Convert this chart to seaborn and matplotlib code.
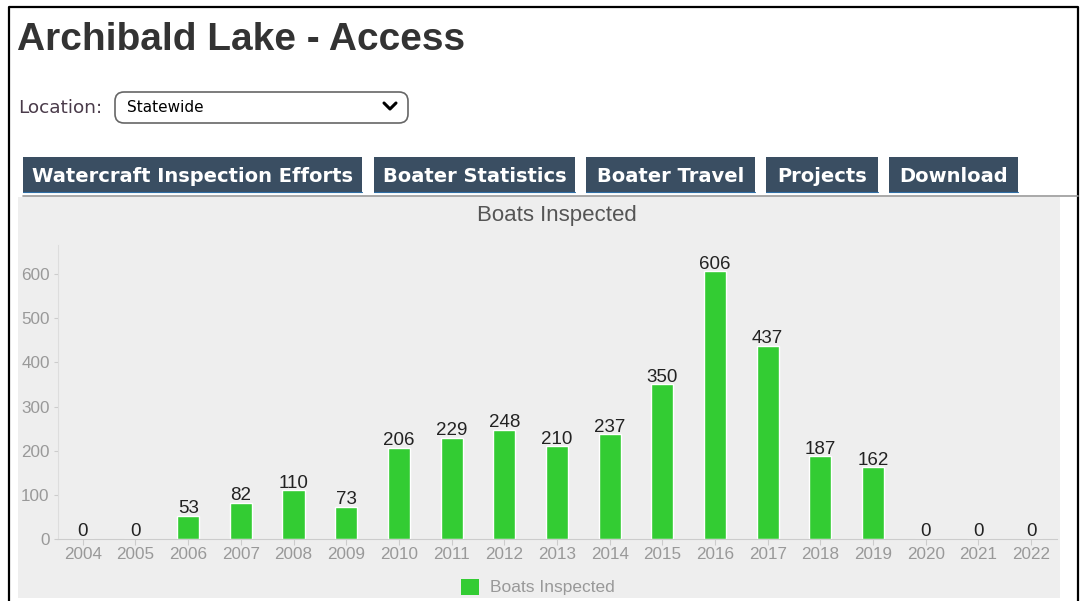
import matplotlib
matplotlib.use("Agg")
import matplotlib.pyplot as plt
import seaborn as sns
import pandas as pd
from matplotlib.patches import Rectangle, FancyBboxPatch, Patch
from matplotlib.lines import Line2D

years = [str(y) for y in range(2004, 2023)]
boats = [0, 0, 53, 82, 110, 73, 206, 229, 248, 210, 237, 350, 606, 437, 187, 162, 0, 0, 0]
tabs = ["Watercraft Inspection Efforts", "Boater Statistics", "Boater Travel", "Projects", "Download"]
tab_x = [(23, 362), (374, 575), (586, 755), (766, 878), (889, 1018)]

green = "#33cc33"
df = pd.DataFrame({"year": years, "boats": boats})

sns.set_style("white")
plt.rcParams["font.family"] = ["Liberation Sans", "DejaVu Sans"]

W, H = 1088, 601
fig = plt.figure(figsize=(W / 100, H / 100), dpi=100)
T = fig.dpi_scale_trans


def p(x, y):
    return x / 100, (H - y) / 100


# page frame
fig.add_artist(Line2D([0.09, 0.09, 10.78, 10.78], [0, (H - 7) / 100, (H - 7) / 100, 0],
                      transform=T, color="black", lw=1.6))

fig.text(*p(17, 40), "Archibald Lake - Access", transform=T, fontsize=28, fontweight="bold",
         color="#333333", va="center", ha="left")

fig.text(*p(18, 108), "Location:", transform=T, fontsize=13.3, color="#4a3b4a", va="center",
         family="DejaVu Sans")
box = FancyBboxPatch(p(115, 123), 2.93, 0.31, boxstyle="round,pad=0,rounding_size=0.09",
                     transform=T, fc="white", ec="#666666", lw=1.2)
fig.add_artist(box)
fig.text(*p(127, 108), "Statewide", transform=T, fontsize=11, color="black", va="center",
         family="DejaVu Sans")
fig.add_artist(Line2D([3.84, 3.90, 3.96], [(H - 103) / 100, (H - 109) / 100, (H - 103) / 100],
                      transform=T, color="black", lw=2.2, solid_capstyle="round"))

for name, (x0, x1) in zip(tabs, tab_x):
    fig.add_artist(Rectangle(p(x0, 193), (x1 - x0) / 100, 0.36, transform=T,
                             fc="#3a4e62", ec="none"))
    fig.add_artist(Line2D([x0 / 100, x1 / 100], [(H - 192) / 100] * 2, transform=T,
                          color="#2f6ea5", lw=0.8))
    fig.text(*p((x0 + x1) / 2, 176), name, transform=T, fontsize=14, fontweight="bold",
             color="white", ha="center", va="center", family="DejaVu Sans")
fig.add_artist(Line2D([0.23, 10.78], [(H - 196) / 100] * 2, transform=T, color="#999999", lw=1.2))

# chart panel
fig.add_artist(Rectangle(p(18, 598), 10.42, 4.01, transform=T, fc="#eeeeee", ec="none", zorder=0))
fig.text(*p(557, 215), "Boats Inspected", transform=T, fontsize=16, color="#555555",
         ha="center", va="center")

ax = fig.add_axes([58 / W, (H - 539) / H, (1057 - 58) / W, (539 - 245) / H])
ax.set_facecolor("none")
sns.barplot(data=df, x="year", y="boats", color=green, saturation=1, width=0.42, ax=ax,
            label="Boats Inspected")
ax.bar_label(ax.containers[0], padding=-1, fontsize=13.5, color="#222222")
ax.set_xlim(-0.47, 18.49)
ax.set_ylim(0, 666)
ax.set_yticks(range(0, 700, 100))
ax.set_xlabel("")
ax.set_ylabel("")
for s in ["top", "right"]:
    ax.spines[s].set_visible(False)
ax.spines["left"].set_color("#dddddd")
ax.spines["bottom"].set_color("#cccccc")
ax.tick_params(axis="y", length=3, color="#cccccc", labelcolor="#999999", labelsize=12.3, pad=3, left=True)
ax.tick_params(axis="x", length=4, color="#cccccc", labelcolor="#999999", labelsize=12.3, pad=1.5, bottom=True)
if ax.get_legend():
    ax.get_legend().remove()

fig.legend(handles=[Patch(fc=green, ec="none", label="Boats Inspected")], loc="center",
           bbox_to_anchor=(538 / W, 14 / H), frameon=False, fontsize=12.5, handlelength=1.05,
           handleheight=1.05, handletextpad=0.65, labelcolor="#999999", borderpad=0)

fig.savefig("out.png", dpi=100)
